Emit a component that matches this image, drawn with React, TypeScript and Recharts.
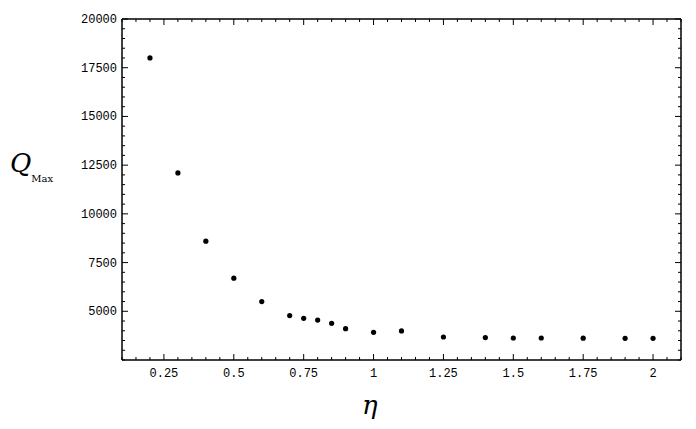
import React from "react";
import { ScatterChart, Scatter, XAxis, YAxis } from "recharts";

const etaValues = [0.2, 0.3, 0.4, 0.5, 0.6, 0.7, 0.75, 0.8, 0.85, 0.9, 1.0, 1.1, 1.25, 1.4, 1.5, 1.6, 1.75, 1.9, 2.0];
const qMaxValues = [18000, 12100, 8600, 6700, 5500, 4780, 4640, 4550, 4380, 4110, 3920, 3990, 3680, 3650, 3630, 3630, 3620, 3610, 3610];

const xMajorTicks = [0.25, 0.5, 0.75, 1, 1.25, 1.5, 1.75, 2];
const xTickLabels = ["0.25", "0.5", "0.75", "1", "1.25", "1.5", "1.75", "2"];
const yMajorTicks = [5000, 7500, 10000, 12500, 15000, 17500, 20000];
const yTickLabels = ["5000", "7500", "10000", "12500", "15000", "17500", "20000"];

const X_DOMAIN: [number, number] = [0.1, 2.1];
const Y_DOMAIN: [number, number] = [2500, 20000];

const xAllTicks: number[] = [];
for (let i = 2; i <= 42; i++) xAllTicks.push(Math.round(i * 5) / 100);
const yAllTicks: number[] = [];
for (let v = 2500; v <= 20000; v += 500) yAllTicks.push(v);

const data = etaValues.map((x, i) => ({ x, y: qMaxValues[i] }));

const isXMajor = (v: number) => xMajorTicks.some((m) => Math.abs(m - v) < 1e-6);
const isYMajor = (v: number) => yMajorTicks.some((m) => Math.abs(m - v) < 1e-6);

const FONT = "'Liberation Mono', 'DejaVu Sans Mono', monospace";

const renderBottomTick = (props: any) => {
  const { x, y, payload } = props;
  const v = payload.value;
  const major = isXMajor(v);
  const idx = xMajorTicks.findIndex((m) => Math.abs(m - v) < 1e-6);
  return (
    <g>
      <line x1={x} y1={y} x2={x} y2={y - (major ? 6 : 3)} stroke="#000" strokeWidth={1} />
      {major && (
        <text x={x} y={y + 17} textAnchor="middle" fontFamily={FONT} fontSize={12} fill="#000">
          {xTickLabels[idx]}
        </text>
      )}
    </g>
  );
};

const renderTopTick = (props: any) => {
  const { x, y, payload } = props;
  const major = isXMajor(payload.value);
  return <line x1={x} y1={y} x2={x} y2={y + (major ? 6 : 3)} stroke="#000" strokeWidth={1} />;
};

const renderLeftTick = (props: any) => {
  const { x, y, payload } = props;
  const v = payload.value;
  const major = isYMajor(v);
  const idx = yMajorTicks.findIndex((m) => Math.abs(m - v) < 1e-6);
  return (
    <g>
      <line x1={x} y1={y} x2={x + (major ? 6 : 3)} y2={y} stroke="#000" strokeWidth={1} />
      {major && (
        <text x={x - 5} y={y + 4} textAnchor="end" fontFamily={FONT} fontSize={12} fill="#000">
          {yTickLabels[idx]}
        </text>
      )}
    </g>
  );
};

const renderRightTick = (props: any) => {
  const { x, y, payload } = props;
  const major = isYMajor(payload.value);
  return <line x1={x} y1={y} x2={x - (major ? 6 : 3)} y2={y} stroke="#000" strokeWidth={1} />;
};

const renderDot = (props: any) => {
  const { cx, cy } = props;
  return <circle cx={cx} cy={cy} r={2.6} fill="#000" />;
};

export default function App() {
  return (
    <div style={{ position: "absolute", left: 0, top: 0, width: 696, height: 429, background: "#fff" }}>
      <ScatterChart width={696} height={429} margin={{ top: 18, right: 14, bottom: 39, left: 62 }}>
        <XAxis
          xAxisId="b"
          dataKey="x"
          type="number"
          domain={X_DOMAIN}
          ticks={xAllTicks}
          interval={0}
          orientation="bottom"
          height={30}
          tickSize={0}
          tickMargin={0}
          tickLine={false}
          axisLine={{ stroke: "#000", strokeWidth: 1.5 }}
          tick={renderBottomTick}
          allowDataOverflow
        />
        <XAxis
          xAxisId="t"
          dataKey="x"
          type="number"
          domain={X_DOMAIN}
          ticks={xAllTicks}
          interval={0}
          orientation="top"
          height={1}
          tickSize={0}
          tickMargin={0}
          tickLine={false}
          axisLine={{ stroke: "#000", strokeWidth: 1.5 }}
          tick={renderTopTick}
          allowDataOverflow
        />
        <YAxis
          yAxisId="l"
          dataKey="y"
          type="number"
          domain={Y_DOMAIN}
          ticks={yAllTicks}
          interval={0}
          orientation="left"
          width={60}
          tickSize={0}
          tickMargin={0}
          tickLine={false}
          axisLine={{ stroke: "#000", strokeWidth: 1.5 }}
          tick={renderLeftTick}
          allowDataOverflow
        />
        <YAxis
          yAxisId="r"
          dataKey="y"
          type="number"
          domain={Y_DOMAIN}
          ticks={yAllTicks}
          interval={0}
          orientation="right"
          width={1}
          tickSize={0}
          tickMargin={0}
          tickLine={false}
          axisLine={{ stroke: "#000", strokeWidth: 1.5 }}
          tick={renderRightTick}
          allowDataOverflow
        />
        <Scatter data={data} xAxisId="b" yAxisId="l" fill="#000" shape={renderDot} isAnimationActive={false} />
      </ScatterChart>
      <div
        style={{
          position: "absolute",
          left: 10,
          top: 150,
          fontFamily: "'DejaVu Serif', serif",
          fontStyle: "italic",
          fontSize: 26,
          color: "#000",
          lineHeight: 1,
        }}
      >
        Q
        <span style={{ fontSize: 10, fontStyle: "normal", verticalAlign: "-10px" }}>Max</span>
      </div>
      <div
        style={{
          position: "absolute",
          left: 362,
          top: 392,
          fontFamily: "'DejaVu Serif', serif",
          fontStyle: "italic",
          fontSize: 26,
          color: "#000",
          lineHeight: 1,
        }}
      >
        η
      </div>
    </div>
  );
}
